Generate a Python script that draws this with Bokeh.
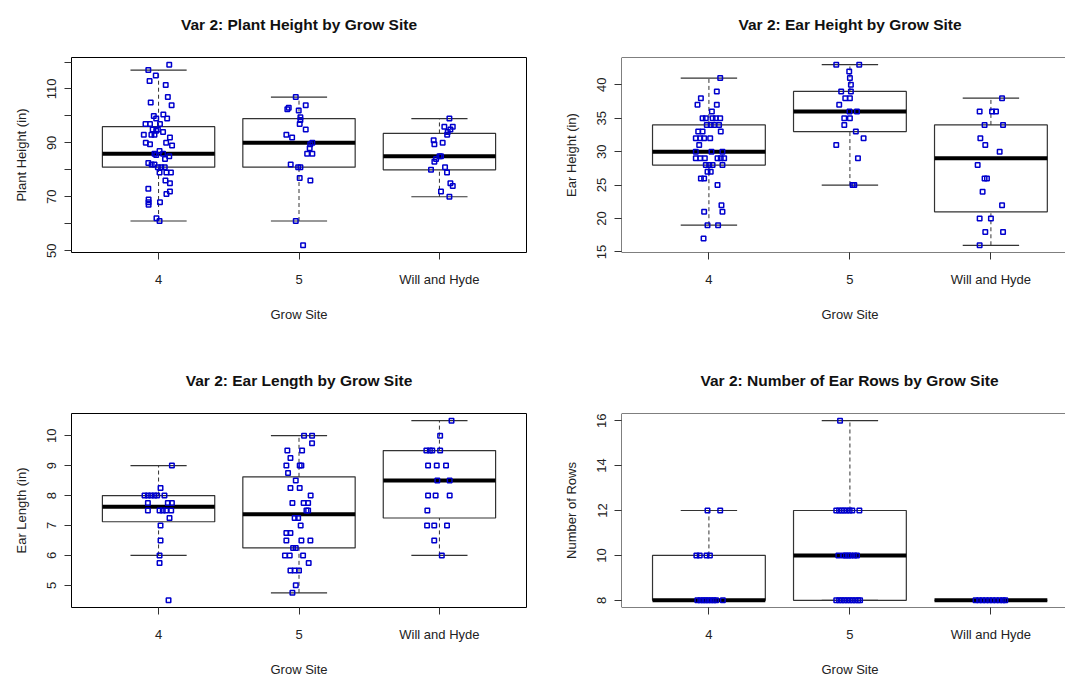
import numpy as np
from bokeh.plotting import figure
from bokeh.models import Range1d, FixedTicker, Span, Title
from bokeh.layouts import column, row
from bokeh.embed import file_html
from bokeh.resources import INLINE

# ---------------- data ----------------
SITES = ["4", "5", "Will and Hyde"]

# five-number boxes per site: [lower whisker, Q1, median, Q3, upper whisker]
PH_BOX = [[61, 81, 86, 96, 117], [61, 81, 90, 99, 107], [70, 80, 85, 93.5, 99]]
EH_BOX = [[19, 28, 30, 34, 41], [25, 33, 36, 39, 43], [16, 21, 29, 34, 38]]
EL_BOX = [[6, 7.125, 7.625, 8, 9], [4.75, 6.25, 7.375, 8.625, 10], [6, 7.25, 8.5, 9.5, 10.5]]
ER_BOX = [[8, 8, 8, 10, 12], [8, 8, 10, 12, 16], [8, 8, 8, 8, 8]]

# Plant height points (value) and horizontal jitter (in site units)
PH_Y_4 = [119, 117, 115, 113, 111.5, 107, 105, 104, 100, 100.5, 99, 99, 97, 97, 97,
          95, 94.5, 95, 93, 93, 93, 94, 92, 90, 89.5, 90, 89, 87, 86, 85.5, 86, 85,
          84, 82.5, 82, 82, 81, 81, 81, 79, 79, 79, 76, 75, 73, 71, 72, 69, 68, 67,
          68, 62, 61]
PH_DX_4 = [0.076, -0.073, -0.020, -0.064, 0.051, 0.066, -0.056, 0.093, -0.034, 0.034,
           0.061, -0.017, -0.093, -0.061, 0.010, -0.042, -0.017, -0.005, -0.105, -0.051,
           -0.029, 0.032, 0.081, -0.091, -0.061, 0.054, 0.096, 0.007, -0.029, -0.017,
           0.032, 0.076, 0.046, -0.073, -0.049, -0.029, -0.005, 0.019, 0.044, 0.007,
           0.056, 0.088, 0.049, 0.081, -0.073, 0.056, 0.081, -0.071, -0.071, -0.071,
           0.010, -0.015, 0.007]
PH_Y_5 = [107, 104, 102.5, 103, 102, 99.5, 98.5, 97, 95, 93, 92, 90, 88, 86, 86, 82,
          81, 81, 77, 76, 61, 52, 89.5]
PH_DX_5 = [-0.023, 0.048, -0.083, -0.073, -0.002, 0.010, 0.010, 0.005, 0.048, -0.090,
           -0.049, 0.095, 0.076, 0.058, 0.095, -0.059, -0.006, 0.010, 0.005, 0.081,
           -0.023, 0.029, 0.080]
PH_Y_W = [99, 96, 96, 95, 94, 93, 91, 89.5, 90, 85, 85, 84, 83, 80, 81, 79, 75, 74, 72, 70]
PH_DX_W = [0.071, 0.035, 0.095, 0.078, 0.059, 0.055, -0.041, -0.036, 0.023, 0.000,
           0.011, -0.024, -0.036, -0.060, 0.040, 0.054, 0.078, 0.095, 0.011, 0.071]

# Ear height
EH_Y_4 = [41, 39, 38, 37, 37, 36, 35, 35, 35, 35, 35, 34, 34, 34, 34, 33, 33, 33,
          32, 32, 32, 32, 31, 30, 30, 30, 29, 29, 29, 29, 29, 29, 28, 28, 28, 28,
          27, 27, 26, 26, 25, 22, 21, 21, 19, 19, 17]
EH_DX_4 = [0.080, 0.056, -0.057, -0.081, 0.056, 0.021, -0.045, -0.022, 0.026, 0.049,
           0.080, -0.015, 0.013, 0.037, 0.072, 0.084, -0.076, -0.045, -0.093, -0.062,
           -0.034, 0.009, -0.069, -0.093, 0.018, 0.096, -0.093, -0.062, -0.029, 0.061,
           0.084, 0.108, -0.022, 0.002, 0.026, 0.096, -0.010, 0.013, -0.057, -0.034,
           0.061, 0.089, -0.034, 0.096, -0.010, 0.065, -0.038]
EH_Y_5 = [43, 43, 42, 41, 40, 39, 39, 38, 38, 37, 36, 36, 35, 35, 34, 33, 32, 31, 29, 25, 25]
EH_DX_5 = [-0.097, 0.066, -0.005, 0.000, 0.007, -0.062, 0.007, -0.033, 0.000, -0.076,
           -0.003, 0.050, -0.040, 0.000, -0.040, 0.042, 0.097, -0.097, 0.057, 0.019, 0.031]
EH_Y_W = [38, 36, 36, 36, 34, 34, 32, 31, 30, 28, 26, 26, 24, 22, 20, 20, 18, 18, 16]
EH_DX_W = [0.079, -0.080, 0.008, 0.036, -0.045, 0.086, -0.075, -0.040, 0.062, -0.094,
           -0.045, -0.028, -0.059, 0.079, -0.080, 0.000, -0.040, 0.086, -0.080]

# Ear length
EL_Y_4 = [9, 8.25, 8, 8, 8, 8, 8, 8, 7.75, 7.75, 7.75, 7.5, 7.5, 7.5, 7.5, 7.5,
          7.25, 7, 6.5, 6, 5.75, 4.5]
EL_DX_4 = [0.095, 0.014, -0.100, -0.076, -0.053, -0.029, -0.010, 0.042, -0.076, 0.066,
           0.095, -0.076, 0.007, 0.030, 0.054, 0.090, 0.078, 0.014, 0.014, 0.007, 0.007, 0.071]
EL_Y_5 = [10, 10, 9.75, 9.5, 9.5, 9.25, 9, 9, 9, 8.75, 8.5, 8.25, 8.25, 8, 7.75, 7.75,
          7.75, 7.5, 7.5, 7.25, 7.25, 7, 6.75, 6.75, 6.5, 6.5, 6.5, 6.25, 6.25, 6, 6, 6,
          5.75, 5.5, 5.5, 5.5, 5, 4.75]
EL_DX_5 = [0.036, 0.093, 0.093, -0.083, 0.022, -0.061, -0.090, 0.005, 0.017, -0.078,
           -0.023, -0.061, 0.005, 0.083, -0.047, 0.033, 0.065, 0.053, 0.065, -0.031,
           -0.006, 0.012, -0.090, -0.061, -0.090, 0.017, 0.081, -0.042, -0.023, -0.100,
           -0.066, 0.029, 0.069, -0.061, -0.031, 0.000, -0.023, -0.047]
EL_Y_W = [10.5, 10, 9.5, 9.5, 9.5, 9.5, 9, 9, 9, 8.5, 8.5, 8, 8, 8, 7.5, 7, 7, 7, 6.5, 6]
EL_DX_W = [0.086, 0.005, -0.093, -0.068, -0.051, 0.005, -0.081, -0.019, 0.047, -0.015,
           0.073, -0.081, -0.027, 0.073, -0.086, -0.088, -0.037, 0.054, -0.037, 0.017]

# Number of ear rows
ER_Y_4 = [12, 12, 10, 10, 10, 10, 8, 8, 8, 8, 8, 8, 8, 8, 8]
ER_DX_4 = [-0.010, 0.080, -0.089, -0.065, -0.017, 0.007, -0.082, -0.061, -0.041, -0.024,
           -0.005, 0.014, 0.034, 0.051, 0.099]
ER_Y_5 = [16, 12, 12, 12, 12, 12, 12, 12, 12, 10, 10, 10, 10, 10, 10, 10,
          8, 8, 8, 8, 8, 8, 8, 8, 8, 8]
ER_DX_5 = [-0.070, -0.097, -0.077, -0.058, -0.041, -0.022, -0.002, 0.017, 0.067,
           -0.082, -0.046, -0.029, -0.010, 0.007, 0.031, 0.050,
           -0.097, -0.077, -0.058, -0.039, -0.020, 0.000, 0.019, 0.038, 0.058, 0.072]
ER_Y_W = [8, 8, 8, 8, 8, 8, 8, 8, 8, 8]
ER_DX_W = [-0.109, -0.084, -0.060, -0.036, -0.012, 0.012, 0.036, 0.061, 0.085, 0.102]

PH_TICKS = [50, 60, 70, 80, 90, 100, 110, 120]
PH_LABELLED = [50, 70, 90, 110]
EH_TICKS = [15, 20, 25, 30, 35, 40]
EL_TICKS = [5, 6, 7, 8, 9, 10]
ER_TICKS = [8, 10, 12, 14, 16]

# ---------------- styling ----------------
FONT = "Liberation Sans"
BLUE = "#0000CD"
BOXC = "#333333"
TXT = "#222222"
PX_PER_SITE_RIGHT = 141.0


def make_panel(title, ylab, boxes, ys, dxs, ticks, labelled, width, height,
               bl, br, bt, bb, full_frame, title_off=None, xlab_off=None):
    vals = [v for g in ys for v in g] + [v for b in boxes for v in b]
    lo, hi = min(vals), max(vals)
    pad = 0.04 * (hi - lo)
    y0, y1 = lo - pad, hi + pad
    fw = width - bl - br
    x0 = 0.38
    x1 = 3.62 if full_frame else x0 + fw / PX_PER_SITE_RIGHT

    p = figure(width=width, height=height, x_range=Range1d(x0, x1),
               y_range=Range1d(y0, y1), output_backend="svg",
               toolbar_location=None, tools="",
               min_border_left=bl, min_border_right=br,
               min_border_top=bt, min_border_bottom=bb)
    p.xgrid.visible = False
    p.ygrid.visible = False
    p.background_fill_color = "white"
    p.border_fill_color = "white"

    xs = [1, 2, 3]
    lw = [b[0] for b in boxes]
    q1 = [b[1] for b in boxes]
    md = [b[2] for b in boxes]
    q3 = [b[3] for b in boxes]
    uw = [b[4] for b in boxes]

    p.segment(x0=xs, y0=q3, x1=xs, y1=uw, line_color=BOXC, line_width=1, line_dash="4 3")
    p.segment(x0=xs, y0=lw, x1=xs, y1=q1, line_color=BOXC, line_width=1, line_dash="4 3")
    p.segment(x0=[x - 0.2 for x in xs], y0=uw, x1=[x + 0.2 for x in xs], y1=uw,
              line_color=BOXC, line_width=1.2)
    p.segment(x0=[x - 0.2 for x in xs], y0=lw, x1=[x + 0.2 for x in xs], y1=lw,
              line_color=BOXC, line_width=1.2)
    p.quad(left=[x - 0.4 for x in xs], right=[x + 0.4 for x in xs], bottom=q1, top=q3,
           fill_alpha=0, line_color=BOXC, line_width=1.2)
    p.segment(x0=[x - 0.4 for x in xs], y0=md, x1=[x + 0.4 for x in xs], y1=md,
              line_color="black", line_width=4, line_cap="butt")

    px = [i + 1 + d for i, dg in enumerate(dxs) for d in dg]
    py = [v for g in ys for v in g]
    p.scatter(x=px, y=py, marker="square", size=4.5, line_color=BLUE,
              line_width=1.5, fill_color=None)

    xa = p.xaxis[0]
    xa.ticker = FixedTicker(ticks=xs)
    xa.major_label_overrides = {1: SITES[0], 2: SITES[1], 3: SITES[2]}
    xa.axis_line_color = None
    xa.major_tick_in = 0
    xa.major_tick_out = 7
    xa.major_tick_line_color = BOXC
    xa.minor_tick_line_color = None
    xa.major_label_text_font = FONT
    xa.major_label_text_font_size = "13px"
    xa.major_label_text_color = TXT
    xa.major_label_standoff = 12

    ya = p.yaxis[0]
    ya.ticker = FixedTicker(ticks=ticks)
    ya.major_label_overrides = {t: ("" if t not in labelled else str(t)) for t in ticks}
    ya.axis_line_color = None
    ya.major_tick_in = 0
    ya.major_tick_out = 7
    ya.major_tick_line_color = BOXC
    ya.minor_tick_line_color = None
    ya.major_label_orientation = "vertical"
    ya.major_label_text_font = FONT
    ya.major_label_text_font_size = "13px"
    ya.major_label_text_color = TXT
    ya.major_label_standoff = 8
    ya.axis_label = ylab
    ya.axis_label_text_font = FONT
    ya.axis_label_text_font_style = "normal"
    ya.axis_label_text_font_size = "13px"
    ya.axis_label_text_color = TXT
    ya.axis_label_standoff = 16

    if full_frame:
        p.outline_line_color = "black"
        p.outline_line_width = 1
        p.outline_line_alpha = 1
    else:
        p.outline_line_color = None
        for loc, dim in ((y0, "width"), (y1, "width"), (x0, "height")):
            p.add_layout(Span(location=loc, dimension=dim, line_color="black", line_width=1))

    # title (spacer first so that it sits nearer the frame)
    p.add_layout(Title(text=" ", text_font_size="1px", standoff=22), "above")
    t = Title(text=title, text_font=FONT, text_font_style="bold",
              text_font_size="15.5px", text_color="#111111", standoff=0,
              vertical_align="bottom")
    if title_off is None:
        t.align = "center"
    else:
        t.align = "left"
        t.offset = title_off
    p.add_layout(t, "above")

    # x axis title below
    p.add_layout(Title(text=" ", text_font_size="1px", standoff=12), "below")
    g = Title(text="Grow Site", text_font=FONT, text_font_style="normal",
              text_font_size="13px", text_color=TXT, standoff=0, vertical_align="bottom")
    if xlab_off is None:
        g.align = "center"
    else:
        g.align = "left"
        g.offset = xlab_off
    p.add_layout(g, "below")
    return p


p1 = make_panel("Var 2: Plant Height by Grow Site", "Plant Height (in)", PH_BOX,
                [PH_Y_4, PH_Y_5, PH_Y_W], [PH_DX_4, PH_DX_5, PH_DX_W],
                PH_TICKS, PH_LABELLED, 540, 340, 71, 14, 57, 88, True)
p2 = make_panel("Var 2: Ear Height by Grow Site", "Ear Height (in)", EH_BOX,
                [EH_Y_4, EH_Y_5, EH_Y_W], [EH_DX_4, EH_DX_5, EH_DX_W],
                EH_TICKS, EH_TICKS, 525, 340, 81, 0, 57, 88, False,
                title_off=117, xlab_off=200)
p3 = make_panel("Var 2: Ear Length by Grow Site", "Ear Length (in)", EL_BOX,
                [EL_Y_4, EL_Y_5, EL_Y_W], [EL_DX_4, EL_DX_5, EL_DX_W],
                EL_TICKS, EL_TICKS, 540, 337, 71, 14, 73, 70, True)
p4 = make_panel("Var 2: Number of Ear Rows by Grow Site", "Number of Rows", ER_BOX,
                [ER_Y_4, ER_Y_5, ER_Y_W], [ER_DX_4, ER_DX_5, ER_DX_W],
                ER_TICKS, ER_TICKS, 525, 337, 81, 0, 73, 70, False,
                title_off=79, xlab_off=200)

layout = column(row(p1, p2), row(p3, p4))

with open("out.html", "w") as f:
    f.write(file_html(layout, INLINE))
